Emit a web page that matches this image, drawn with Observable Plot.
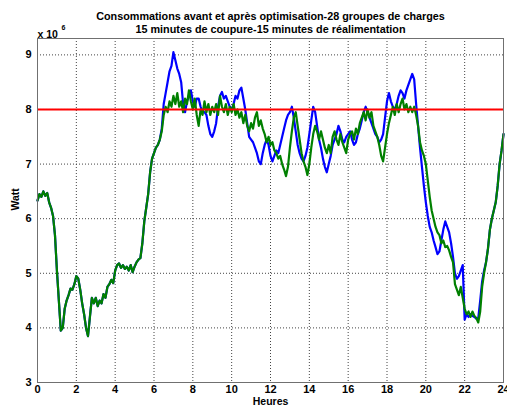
<!DOCTYPE html>
<html>
<head>
<meta charset="utf-8">
<script src="https://cdn.jsdelivr.net/npm/d3@7"></script>
<script src="https://cdn.jsdelivr.net/npm/@observablehq/plot@0.6"></script>
<style>
  html, body { margin: 0; padding: 0; background: #fff; }
  #chart { width: 507px; height: 410px; }
</style>
</head>
<body>
<div id="chart"></div>
<script>
// ---- Data (values in units of 10^6 W), sampled every 0.1 h from 0 to 24 h ----
const titleLine1 = "Consommations avant et après optimisation-28 groupes de charges";
const titleLine2 = "15 minutes de coupure-15 minutes de réalimentation";
const xLabel = "Heures";
const yLabel = "Watt";
const yExponentBase = "x 10";
const yExponentPower = "6";
const startHour = 0;
const stepHour = 0.1;
const xTicks = [0, 2, 4, 6, 8, 10, 12, 14, 16, 18, 20, 22, 24];
const yTicks = [3, 4, 5, 6, 7, 8, 9];
const limitValue = 8;

// Before optimisation (blue)
const avant = [
  6.33, 6.45, 6.40, 6.50, 6.42, 6.47, 6.30, 6.20, 6.05, 5.70,
  5.05, 4.50, 3.95, 4.00, 4.35, 4.50, 4.60, 4.72, 4.70, 4.80,
  4.95, 4.90, 4.70, 4.45, 4.25, 4.00, 3.85, 4.20, 4.55, 4.45,
  4.55, 4.40, 4.50, 4.45, 4.62, 4.55, 4.75, 4.80, 4.88, 4.82,
  5.05, 5.15, 5.18, 5.10, 5.15, 5.08, 5.12, 5.05, 5.15, 5.02,
  5.12, 5.20, 5.25, 5.28, 5.55, 5.95, 6.20, 6.45, 6.85, 7.10,
  7.20, 7.30, 7.35, 7.45, 7.65, 8.10, 8.30, 8.50, 8.70, 8.80,
  9.05, 8.90, 8.75, 8.65, 8.50, 8.10, 7.95, 8.15, 8.25, 8.35,
  8.15, 8.05, 8.20, 8.20, 8.05, 7.95, 7.95, 7.90, 7.70, 7.55,
  7.50, 7.60, 7.75, 8.05, 8.25, 8.32, 8.20, 8.25, 8.15, 8.05,
  8.00, 8.10, 8.25, 8.20, 8.35, 8.40, 8.20, 8.00, 7.75, 7.50,
  7.45, 7.40, 7.30, 7.20, 7.05, 7.00, 7.20, 7.35, 7.45, 7.35,
  7.15, 7.05, 7.15, 7.25, 7.20, 7.35, 7.50, 7.65, 7.80, 7.90,
  7.95, 8.05, 7.85, 7.60, 7.35, 7.20, 7.10, 7.05, 7.15, 7.30,
  7.55, 7.80, 8.05, 7.95, 7.70, 7.45, 7.30, 7.10, 6.95, 6.85,
  7.00, 7.15, 7.35, 7.45, 7.55, 7.70, 7.60, 7.45, 7.40, 7.50,
  7.55, 7.60, 7.45, 7.35, 7.40, 7.55, 7.65, 7.80, 7.95, 8.05,
  7.95, 7.85, 7.75, 7.65, 7.55, 7.50, 7.40, 7.45, 7.55, 7.85,
  8.15, 8.30, 8.15, 8.05, 8.00, 8.10, 8.25, 8.35, 8.30, 8.20,
  8.35, 8.45, 8.55, 8.65, 8.55, 8.10, 7.70, 7.30, 6.95, 6.60,
  6.30, 6.05, 5.85, 5.75, 5.60, 5.48, 5.35, 5.40, 5.60, 5.80,
  5.95, 5.85, 5.75, 5.55, 5.30, 5.00, 4.90, 4.95, 5.05, 5.15,
  4.15, 4.25, 4.20, 4.25, 4.22, 4.20, 4.17, 4.18, 4.50, 4.85,
  5.05, 5.20, 5.45, 5.80, 6.00, 6.15, 6.30, 6.60, 7.00, 7.25,
  7.55
];

// After optimisation (green)
const apres = [
  6.33, 6.45, 6.40, 6.50, 6.42, 6.47, 6.30, 6.20, 6.05, 5.70,
  5.05, 4.50, 3.95, 4.00, 4.35, 4.50, 4.60, 4.72, 4.70, 4.80,
  4.95, 4.90, 4.70, 4.45, 4.25, 4.00, 3.85, 4.20, 4.55, 4.45,
  4.55, 4.40, 4.50, 4.45, 4.62, 4.55, 4.75, 4.80, 4.88, 4.82,
  5.05, 5.15, 5.18, 5.10, 5.15, 5.08, 5.12, 5.05, 5.15, 5.02,
  5.12, 5.20, 5.25, 5.28, 5.55, 5.95, 6.20, 6.45, 6.85, 7.10,
  7.20, 7.30, 7.35, 7.45, 7.60, 7.90, 8.05, 7.95, 8.15, 8.05,
  8.25, 8.10, 8.30, 8.05, 8.15, 7.95, 8.20, 8.10, 8.35, 8.15,
  8.00, 8.20, 7.90, 7.70, 8.00, 7.90, 8.15, 7.95, 8.10, 7.90,
  8.05, 7.95, 8.10, 7.90, 8.25, 8.05, 7.95, 8.10, 7.90, 8.05,
  7.95, 8.10, 7.90, 8.00, 7.85, 7.95, 7.75, 7.90, 7.70, 7.60,
  7.75, 7.65, 7.85, 7.95, 7.70, 7.80, 7.65, 7.55, 7.40, 7.50,
  7.35, 7.40, 7.25, 7.20, 7.10, 7.15, 7.00, 6.90, 6.78, 6.95,
  7.30, 7.60, 7.85, 7.95, 7.70, 7.45, 7.20, 7.05, 6.95, 6.80,
  7.00, 7.30, 7.55, 7.70, 7.60, 7.45, 7.60, 7.45, 7.30, 7.20,
  7.35, 7.20, 7.50, 7.60, 7.45, 7.35, 7.55, 7.40, 7.30, 7.20,
  7.45, 7.55, 7.60, 7.45, 7.65, 7.55, 7.75, 7.85, 7.95, 7.80,
  8.00, 7.85, 7.95, 7.70, 7.60, 7.50, 7.35, 7.15, 7.05, 7.30,
  7.55, 7.75, 7.90, 8.05, 7.90, 8.10, 7.95, 8.10, 8.20, 8.00,
  8.10, 7.95, 8.05, 7.95, 8.05, 7.90, 7.70, 7.40, 7.25, 7.15,
  7.00, 6.70, 6.40, 6.15, 6.00, 5.85, 5.75, 5.70, 5.55, 5.60,
  5.48, 5.50, 5.42, 5.30, 5.20, 4.80, 4.70, 4.60, 4.75, 4.55,
  4.35, 4.25, 4.30, 4.20, 4.30, 4.22, 4.18, 4.10, 4.30, 4.75,
  5.00, 5.20, 5.45, 5.80, 6.00, 6.15, 6.30, 6.60, 7.00, 7.25,
  7.55
];

const hourOf = (i) => +(startHour + i * stepHour).toFixed(2);
const avantData = avant.map((v, i) => ({h: hourOf(i), v}));
const apresData = apres.map((v, i) => ({h: hourOf(i), v}));

const font = "'Liberation Sans', Arial, Helvetica, sans-serif";
const gridStyle = {stroke: "#444444", strokeOpacity: 1, strokeDasharray: "1,2", strokeWidth: 1};

const chart = Plot.plot({
  width: 507,
  height: 410,
  marginLeft: 37,
  marginRight: 4,
  marginTop: 38,
  marginBottom: 28,
  style: {fontFamily: font, fontSize: "11px", fontWeight: "bold", color: "#000", background: "#fff"},
  x: {domain: [0, 24], ticks: xTicks, label: null},
  y: {domain: [3, 9.3], ticks: yTicks, label: null},
  marks: [
    Plot.ruleX(xTicks.slice(1, -1), {x: (d) => d, ...gridStyle}),
    Plot.ruleY(yTicks.slice(1), {y: (d) => d, ...gridStyle}),
    Plot.line(avantData, {x: "h", y: "v", stroke: "#0000ff", strokeWidth: 2.2}),
    Plot.line(apresData, {x: "h", y: "v", stroke: "#008000", strokeWidth: 2.2}),
    Plot.ruleY([limitValue], {stroke: "#ff0000", strokeWidth: 2}),
    Plot.frame({stroke: "#707070", strokeWidth: 1}),
    Plot.axisX(xTicks, {tickSize: 0, tickPadding: 3, fontWeight: "bold", fontSize: 11, tickFormat: d3.format("d"), label: null}),
    Plot.axisY(yTicks, {tickSize: 0, tickPadding: 6, fontWeight: "bold", fontSize: 11, tickFormat: d3.format("d"), label: null}),
    Plot.text([titleLine1], {frameAnchor: "top", dy: -26, fontWeight: "bold", fontSize: 10.8}),
    Plot.text([titleLine2], {frameAnchor: "top", dy: -13, fontWeight: "bold", fontSize: 10.8}),
    Plot.text([yExponentBase], {frameAnchor: "top-left", dy: -8, dx: 0, textAnchor: "start", fontWeight: "bold", fontSize: 10.5}),
    Plot.text([yExponentPower], {frameAnchor: "top-left", dy: -13, dx: 24, textAnchor: "start", fontWeight: "bold", fontSize: 7}),
    Plot.text([xLabel], {frameAnchor: "bottom", dy: 22, fontWeight: "bold", fontSize: 10.5}),
    Plot.text([yLabel], {frameAnchor: "left", dx: -22, rotate: -90, fontWeight: "bold", fontSize: 10.5})
  ]
});
document.getElementById("chart").appendChild(chart);
</script>
</body>
</html>
